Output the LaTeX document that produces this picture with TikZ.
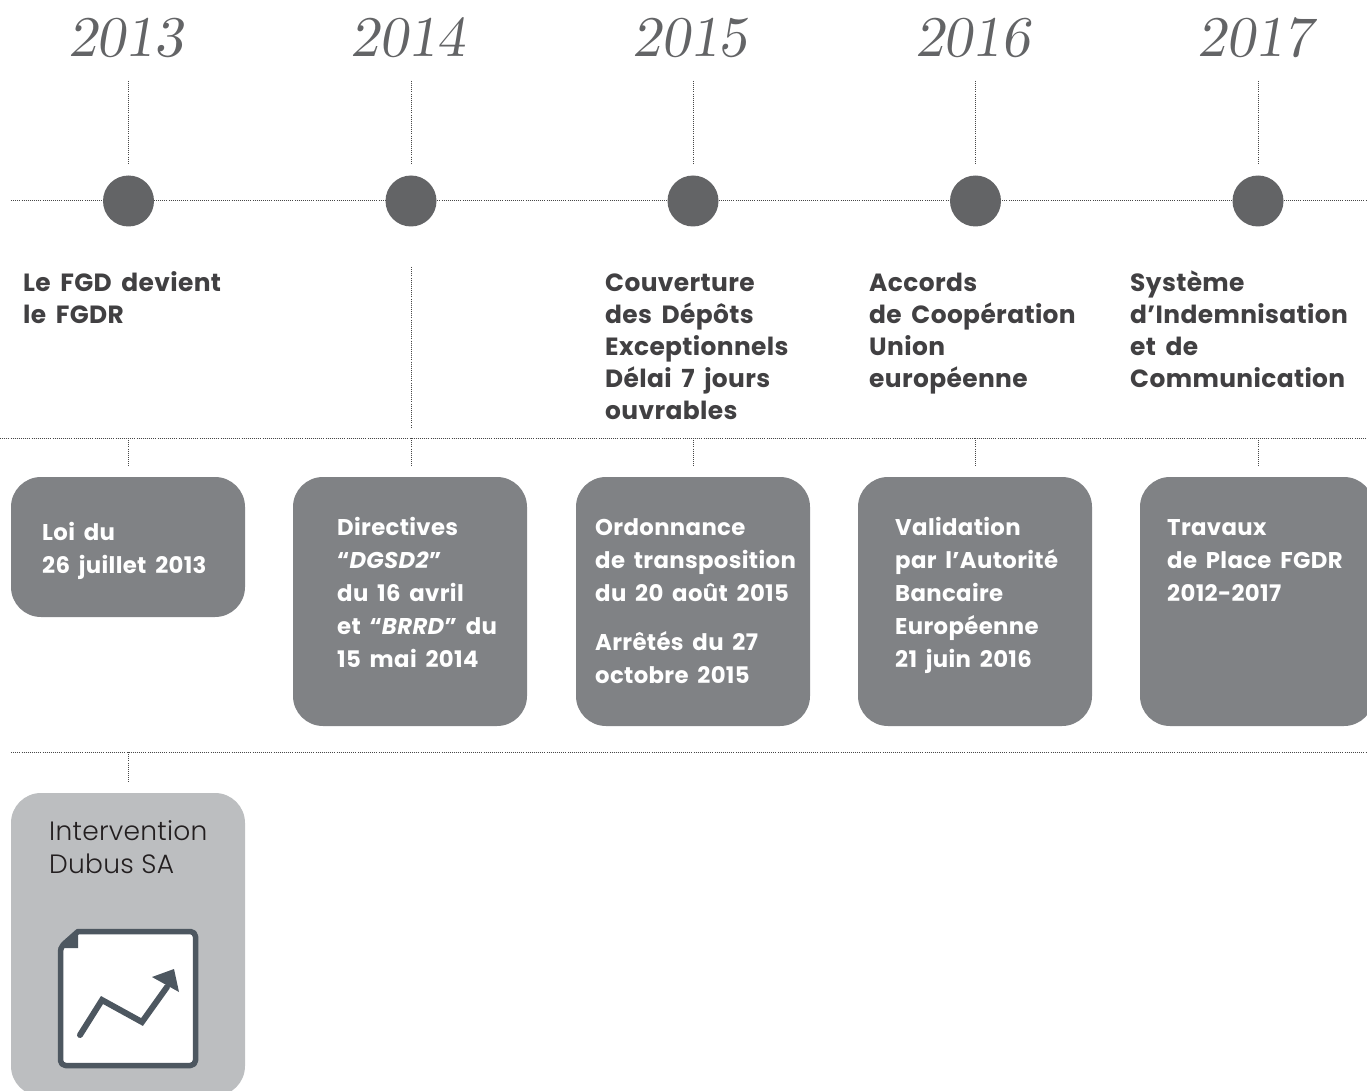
\documentclass[tikz,border=0pt]{standalone}
\usepackage{fontspec}
\setsansfont{Poppins}[LetterSpace=1.5,WordSpace=1.7]
\newfontfamily\bodyfont{Poppins Light}[LetterSpace=1]
\newfontface\yearfont{lmromanslant10-regular.otf}
\newcommand\topstrut{\rule{0pt}{22pt}}
\begin{document}
\begin{tikzpicture}[x=1pt,y=-1pt,
  dots/.style={draw=black!72,line width=1pt,dash pattern=on 1pt off 1.1pt},
  dot/.style={circle,fill=dotgrey,minimum size=51pt,inner sep=0pt},
  year/.style={font=\yearfont\fontsize{57.5}{57.5}\selectfont,text=dotgrey,anchor=base,xshift=-3pt},
  head/.style={font=\fontsize{24.9}{32}\selectfont\bfseries\sffamily,text=titlegrey,anchor=north west,align=left,inner sep=0pt},
  boxtxt/.style={font=\fontsize{22.8}{33}\selectfont\bfseries\sffamily,text=white,anchor=north west,align=left,inner sep=0pt},
  card/.style={fill=cardgrey,rounded corners=30pt},
  lightcard/.style={fill=lightgrey,rounded corners=30pt}]
\definecolor{dotgrey}{HTML}{636466}
\definecolor{titlegrey}{HTML}{414042}
\definecolor{bodygrey}{HTML}{231F20}
\definecolor{cardgrey}{HTML}{808285}
\definecolor{lightgrey}{HTML}{BCBEC0}
\definecolor{iconc}{HTML}{4D5760}
\useasboundingbox (0,0) rectangle (1367,1091);
\clip (0,0) rectangle (1367,1091);
% rules
\coordinate (r1a) at (11,201); \coordinate (r1b) at (1367,201);
\coordinate (r2a) at (0,438); \coordinate (r2b) at (1367,438);
\coordinate (r3a) at (11,752); \coordinate (r3b) at (1367,752);
\draw[dots] (r1a) -- (r1b);
\draw[dots] (r2a) -- (r2b);
\draw[dots] (r3a) -- (r3b);
\foreach \n/\x/\y in {a/128.5/2013,b/411/2014,c/693/2015,d/975.5/2016,e/1258/2017}{
  \node[year] (y\n) at (\x,57) {\y};
  \node[dot] (c\n) at (\x,201) {};
  \coordinate (t\n) at (\x,81); \coordinate (u\n) at (\x,163);
  \draw[dots] (t\n) -- (u\n);
  \coordinate (v\n) at (\x,438); \coordinate (w\n) at (\x,467);
  \draw[dots] (v\n) -- (w\n);
}
\coordinate (x1) at (411,267); \coordinate (x2) at (411,428);
\draw[dots] (x1) -- (x2);
\coordinate (z1) at (128.5,752); \coordinate (z2) at (128.5,782);
\draw[dots] (z1) -- (z2);
% titles
\node[head] (h1) at (23,269) {\topstrut Le FGD devient\\le FGDR};
\node[head] (h3) at (605,269) {\topstrut Couverture\\des Dépôts\\Exceptionnels\\Délai 7 jours\\ouvrables};
\node[head] (h4) at (869,269) {\topstrut Accords\\de Coopération\\Union\\européenne};
\node[head] (h5) at (1130,269) {\topstrut Système\\d’Indemnisation\\et de\\Communication};
% cards
\path[card] (11,477) rectangle (245,617);
\path[card] (293,477) rectangle (527,726);
\path[card] (576,477) rectangle (810,726);
\path[card] (858,477) rectangle (1092,726);
\path[card] (1140,477) rectangle (1374,726);
\node[boxtxt] (b1) at (42,518) {\topstrut Loi du\\26 juillet 2013};
\node[boxtxt] (b2) at (337,513) {\topstrut Directives\\“\textit{DGSD2}”\\du 16 avril\\et “\textit{BRRD}” du\\15 mai 2014};
\node[boxtxt] (b3) at (595,513) {\topstrut Ordonnance\\de transposition\\du 20 août 2015\\[16pt]Arrêtés du 27\\octobre 2015};
\node[boxtxt] (b4) at (895,513) {\topstrut Validation\\par l’Autorité\\Bancaire\\Européenne\\21 juin 2016};
\node[boxtxt] (b5) at (1167,513) {\topstrut Travaux\\de Place FGDR\\2012-2017};
% light card
\path[lightcard] (11,793) rectangle (245,1096);
\node[font=\fontsize{26.5}{33}\selectfont\bodyfont,text=bodygrey,anchor=base west,align=left,inner sep=0pt] (b6) at (49,873) {Intervention\\Dubus SA};
% icon
\draw[iconc,line width=5.5pt,fill=white,line join=round,rounded corners=5pt] (78,931.5) -- (195.5,931.5) -- (195.5,1065.5) -- (60.5,1065.5) -- (60.5,947) [sharp corners] -- cycle;
\fill[iconc] (78,929) -- (78,948) -- (58,948) -- cycle;
\draw[iconc,line width=6pt,line cap=round,line join=miter] (80,1035) -- (102,1000) -- (142,1022) -- (167,987);
\fill[iconc] (174,969) -- (179,992) -- (152,977) -- cycle;
\end{tikzpicture}
\end{document}
